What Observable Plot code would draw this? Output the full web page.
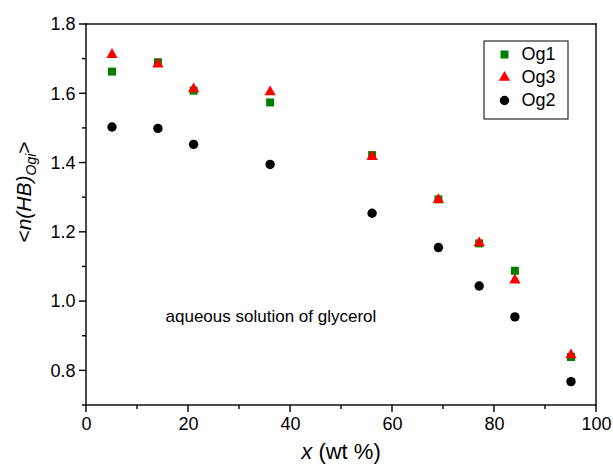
<!DOCTYPE html>
<html><head><meta charset="utf-8">
<script src="https://cdn.jsdelivr.net/npm/d3@7"></script>
<script src="https://cdn.jsdelivr.net/npm/@observablehq/plot@0.6"></script>
<style>
body{margin:0;background:#fff;}
</style>
</head><body><div id="chart"></div>
<script>
// x: glycerol concentration (wt %)
const xValues = [5, 14, 21, 36, 56, 69, 77, 84, 95];
const og1 = [1.664, 1.691, 1.609, 1.575, 1.423, 1.295, 1.168, 1.089, 0.840];
const og3 = [1.713, 1.685, 1.614, 1.605, 1.418, 1.294, 1.169, 1.062, 0.846];
const og2 = [1.504, 1.500, 1.454, 1.396, 1.255, 1.156, 1.045, 0.956, 0.769];
const seriesNames = ["Og1", "Og3", "Og2"];
const seriesColors = ["#008000", "#ff0000", "#000000"];
const seriesSymbols = ["square", "triangle", "circle"];
const xMajorTicks = [0, 20, 40, 60, 80, 100];
const xMinorTicks = [10, 30, 50, 70, 90];
const yMajorTicks = [0.8, 1.0, 1.2, 1.4, 1.6, 1.8];
const yMinorTicks = [0.7, 0.9, 1.1, 1.3, 1.5, 1.7];
const xDomain = [0, 100];
const yDomain = [0.7, 1.8];
const annotationText = "aqueous solution of glycerol";
const annotationX = 15.5;
const annotationY = 0.958;

const seriesValues = [og1, og3, og2];
const seriesRadius = [4.5, 4.2, 4.7];
const rows = seriesNames.map((name, i) => xValues.map((x, j) => ({series: name, x, y: seriesValues[i][j]})));

const W = 613, H = 466;
const mL = 86, mR = 17, mT = 24, mB = 61;
const MAJ = 7, MIN = 4, LW = 1.4;
const FONT = '"Liberation Sans", Arial, sans-serif';

const marks = [
  Plot.axisX(xMajorTicks, {tickSize: 0, tickPadding: MAJ + 5, fontSize: 18, label: null, tickFormat: d => String(d)}),
  Plot.axisY(yMajorTicks, {tickSize: 0, tickPadding: MAJ + 4, fontSize: 18, label: null, tickFormat: d3.format(".1f")}),
  Plot.text([annotationText], {x: () => annotationX, y: () => annotationY, text: d => d, textAnchor: "start", fontSize: 17, fill: "#000"}),
];
rows.forEach((data, i) => {
  marks.push(Plot.dot(data, {x: "x", y: "y", symbol: () => seriesSymbols[i], r: seriesRadius[i], fill: seriesColors[i], stroke: "none"}));
});
// legend (layout relative to the top-right of the frame)
seriesNames.forEach((name, i) => {
  const dy = 30 + i * 23;
  marks.push(Plot.dot([name], {frameAnchor: "top-right", dx: -92, dy, symbol: () => seriesSymbols[i], r: seriesRadius[i], fill: seriesColors[i], stroke: "none"}));
  marks.push(Plot.text([name], {frameAnchor: "top-right", dx: -75, dy, lineAnchor: "middle", text: d => d, textAnchor: "start", fontSize: 18, fill: "#000"}));
});

const chart = Plot.plot({
  width: W, height: H,
  marginLeft: mL, marginRight: mR, marginTop: mT, marginBottom: mB,
  style: {background: "#fff", color: "#000", fontFamily: FONT},
  x: {domain: xDomain, axis: null},
  y: {domain: yDomain, axis: null},
  symbol: {type: "identity"},
  marks
});

const svg = d3.select(chart);
const xsc = chart.scale("x"), ysc = chart.scale("y");
const okRange = r => Array.isArray(r) && r.length === 2 && r.every(Number.isFinite);
const fx = d3.scaleLinear(xDomain, xsc && okRange(xsc.range) ? xsc.range : [mL, W - mR]);
const fy = d3.scaleLinear(yDomain, ysc && okRange(ysc.range) ? ysc.range : [H - mB, mT]);
const x0 = fx(xDomain[0]), x1 = fx(xDomain[1]), y0 = fy(yDomain[0]), y1 = fy(yDomain[1]);
const axes = svg.append("g").attr("fill", "#000").attr("stroke", "none");
function bar(x, y, w, h) {
  axes.append("rect").attr("x", x).attr("y", y).attr("width", w).attr("height", h).attr("fill", "#000");
}
// frame drawn as filled bars
bar(x0 - LW / 2, y1 - LW / 2, x1 - x0 + LW, LW);   // top
bar(x0 - LW / 2, y0 - LW / 2, x1 - x0 + LW, LW);   // bottom
bar(x0 - LW / 2, y1 - LW / 2, LW, y0 - y1 + LW);   // left
bar(x1 - LW / 2, y1 - LW / 2, LW, y0 - y1 + LW);   // right
// ticks
xMajorTicks.forEach(v => bar(fx(v) - LW / 2, y0, LW, MAJ));
xMinorTicks.forEach(v => bar(fx(v) - LW / 2, y0, LW, MIN));
yMajorTicks.forEach(v => bar(x0 - MAJ, fy(v) - LW / 2, MAJ, LW));
yMinorTicks.forEach(v => bar(x0 - MIN, fy(v) - LW / 2, MIN, LW));
// legend box
svg.append("rect")
  .attr("x", W - mR - 112).attr("y", mT + 17)
  .attr("width", 84).attr("height", 78)
  .attr("fill", "none").attr("stroke", "#000").attr("stroke-width", 1);
// x axis title
const xt = svg.append("text")
  .attr("x", (mL + W - mR) / 2).attr("y", 459)
  .attr("text-anchor", "middle").attr("font-size", 22).attr("fill", "#000");
xt.append("tspan").attr("font-style", "italic").text("x");
xt.append("tspan").text(" (wt %)");
// y axis title
const yt = svg.append("text")
  .attr("transform", `translate(31,${192}) rotate(-90)`)
  .attr("text-anchor", "middle").attr("font-size", 21).attr("fill", "#000");
yt.append("tspan").text("<");
yt.append("tspan").attr("font-style", "italic").text("n(HB)");
yt.append("tspan").attr("font-style", "italic").attr("font-size", 14).attr("dy", 5).text("Ogi");
yt.append("tspan").attr("dy", -5).text(">");

document.getElementById("chart").appendChild(chart);
</script>
</body></html>
